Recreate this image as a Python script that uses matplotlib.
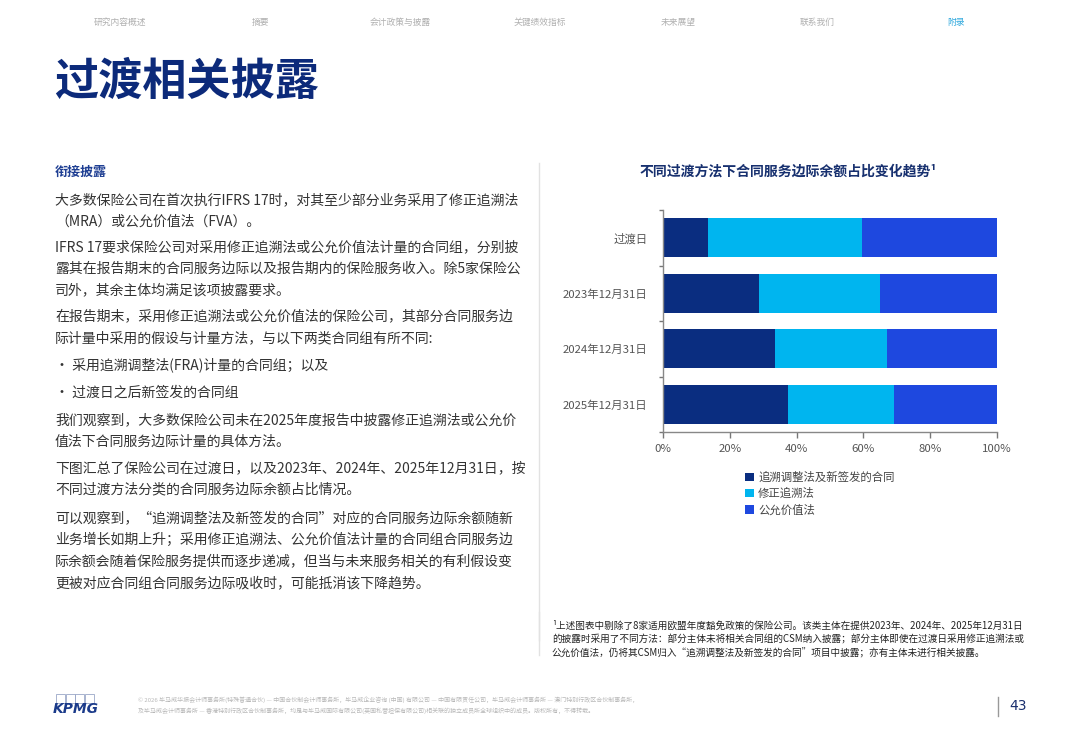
import matplotlib
matplotlib.use("Agg")
import matplotlib.pyplot as plt
import matplotlib.patches as mpatches
import numpy as np

plt.rcParams['font.family'] = ['Noto Sans CJK SC', 'DejaVu Sans']

# ---------------- data ----------------
categories = ["过渡日", "2023年12月31日", "2024年12月31日", "2025年12月31日"]
series_names = ["追溯调整法及新签发的合同", "修正追溯法", "公允价值法"]
fra_new = [13.5, 28.6, 33.5, 37.4]
mra = [46.2, 36.5, 33.5, 31.8]
fva = [40.3, 34.9, 33.0, 30.8]
x_ticks = [0, 20, 40, 60, 80, 100]
x_tick_labels = ["0%", "20%", "40%", "60%", "80%", "100%"]
colors = ["#0a2d80", "#00b5ef", "#1e48df"]

nav_items = ["研究内容概述", "摘要", "会计政策与披露", "关键绩效指标", "未来展望", "联系我们", "附录"]
page_title = "过渡相关披露"
section_heading = "衔接披露"
chart_title = "不同过渡方法下合同服务边际余额占比变化趋势¹"

body_paragraphs = [
    ["大多数保险公司在首次执行IFRS 17时，对其至少部分业务采用了修正追溯法",
     "（MRA）或公允价值法（FVA）。"],
    ["IFRS 17要求保险公司对采用修正追溯法或公允价值法计量的合同组，分别披",
     "露其在报告期末的合同服务边际以及报告期内的保险服务收入。除5家保险公",
     "司外，其余主体均满足该项披露要求。"],
    ["在报告期末，采用修正追溯法或公允价值法的保险公司，其部分合同服务边",
     "际计量中采用的假设与计量方法，与以下两类合同组有所不同:"],
    ["· 采用追溯调整法(FRA)计量的合同组；以及"],
    ["· 过渡日之后新签发的合同组"],
    ["我们观察到，大多数保险公司未在2025年度报告中披露修正追溯法或公允价",
     "值法下合同服务边际计量的具体方法。"],
    ["下图汇总了保险公司在过渡日，以及2023年、2024年、2025年12月31日，按",
     "不同过渡方法分类的合同服务边际余额占比情况。"],
    ["可以观察到，“追溯调整法及新签发的合同”对应的合同服务边际余额随新",
     "业务增长如期上升；采用修正追溯法、公允价值法计量的合同组合同服务边",
     "际余额会随着保险服务提供而逐步递减，但当与未来服务相关的有利假设变",
     "更被对应合同组合同服务边际吸收时，可能抵消该下降趋势。"],
]
para_tops = [200, 247, 316.5, 365, 393, 420, 468, 518]

footnote_lines = [
    "¹上述图表中剔除了8家适用欧盟年度豁免政策的保险公司。该类主体在提供2023年、2024年、2025年12月31日",
    "的披露时采用了不同方法：部分主体未将相关合同组的CSM纳入披露；部分主体即使在过渡日采用修正追溯法或",
    "公允价值法，仍将其CSM归入“追溯调整法及新签发的合同”项目中披露；亦有主体未进行相关披露。",
]
footer_lines = [
    "© 2026 毕马威华振会计师事务所(特殊普通合伙) — 中国合伙制会计师事务所，毕马威企业咨询 (中国) 有限公司 — 中国有限责任公司，毕马威会计师事务所 — 澳门特别行政区合伙制事务所，",
    "及毕马威会计师事务所 — 香港特别行政区合伙制事务所，均是与毕马威国际有限公司(英国私营担保有限公司)相关联的独立成员所全球组织中的成员。版权所有，不得转载。",
]
page_number = "43"

# ---------------- figure ----------------
W, H = 1080, 748
fig = plt.figure(figsize=(W / 100, H / 100), dpi=100)
fig.patch.set_facecolor("white")

def fx(x):
    return x / W

def fy(y):
    return 1 - y / H

navy = "#0c2a7a"
body_col = "#333333"

# nav
nav_x = [120, 261, 400, 540, 678, 817, 956]
for i, (t, x) in enumerate(zip(nav_items, nav_x)):
    fig.text(fx(x), fy(22), t, ha="center", va="center", fontsize=6.3,
             color="#2aa6dc" if i == len(nav_items) - 1 else "#b0b0b0")

# page title
fig.text(fx(54), fy(82), page_title, ha="left", va="center", fontsize=31.8,
         fontweight="heavy", color=navy)

# section heading
fig.text(fx(55), fy(172), section_heading, ha="left", va="center", fontsize=9.4,
         fontweight="bold", color="#1f3f93")

# body text
lh = 21.8
for para, top in zip(body_paragraphs, para_tops):
    for j, line in enumerate(para):
        fig.text(fx(55), fy(top + j * lh), line, ha="left", va="center",
                 fontsize=10.0, color=body_col)

# divider
fig.add_artist(plt.Line2D([fx(539), fx(539)], [fy(163), fy(640)],
                          color="#e2e2e2", lw=1))

# chart title
fig.text(fx(788), fy(172), chart_title, ha="center", va="center", fontsize=10,
         fontweight="bold", color="#17306f")

# chart axes
ax_l, ax_r, ax_t, ax_b = 663, 997, 210, 432
ax = fig.add_axes([fx(ax_l), fy(ax_b), (ax_r - ax_l) / W, (ax_b - ax_t) / H])
y = np.arange(len(categories))
left = np.zeros(len(categories))
handles = []
for vals, name, c in zip([fra_new, mra, fva], series_names, colors):
    b = ax.barh(y, vals, left=left, height=0.71, color=c, label=name)
    handles.append(b)
    left = left + np.array(vals)

ax.set_xlim(0, 100)
ax.set_ylim(len(categories) - 0.5, -0.5)
ax.set_xticks(x_ticks)
ax.set_xticklabels(x_tick_labels)
ax.set_yticks(y)
ax.set_yticklabels(categories)
ax.set_yticks(np.arange(-0.5, len(categories)), minor=True)
ax.tick_params(axis="y", which="major", length=0, pad=11, labelsize=8.2, labelcolor="#555555")
ax.tick_params(axis="y", which="minor", length=3, color="#777777", width=1)
ax.tick_params(axis="x", length=4, color="#777777", width=1, labelsize=8.2,
               labelcolor="#555555", pad=5)
for s in ["top", "right"]:
    ax.spines[s].set_visible(False)
for s in ["left", "bottom"]:
    ax.spines[s].set_color("#888888")
    ax.spines[s].set_linewidth(1)
ax.set_facecolor("white")

leg = fig.legend(handles=handles, labels=series_names, loc="upper left",
                 bbox_to_anchor=(fx(745), fy(472)), frameon=False, fontsize=8.2,
                 handlelength=0.75, handleheight=0.75, handletextpad=0.4,
                 labelspacing=0.42, borderaxespad=0, borderpad=0)
for t in leg.get_texts():
    t.set_color("#444444")

# footnote
for i, line in enumerate(footnote_lines):
    fig.text(fx(552), fy(626 + i * 13.4), line, ha="left", va="center",
             fontsize=6.95, color="#222222")
fig.add_artist(plt.Line2D([fx(539), fx(539)], [fy(612), fy(655)],
                          color="#e2e2e2", lw=1))

# footer: KPMG logo
for k in range(4):
    fig.add_artist(mpatches.Rectangle((fx(56 + k * 9.5), fy(703)), 9 / W, 9 / H,
                                      fill=False, ec="#9aa7c8", lw=0.6))
fig.text(fx(53), fy(709), "KPMG", ha="left", va="center", fontsize=10,
         fontweight="bold", fontstyle="italic", color="#1a3a8a",
         family=["DejaVu Sans"])
for i, line in enumerate(footer_lines):
    fig.text(fx(138), fy(700 + i * 10.5), line, ha="left", va="center",
             fontsize=4.3, color="#b8b8b8")
fig.add_artist(plt.Line2D([fx(998), fx(998)], [fy(697), fy(716)],
                          color="#999999", lw=1))
fig.text(fx(1018), fy(706), page_number, ha="center", va="center", fontsize=10,
         color="#1a2f6e", family=["DejaVu Sans"])

fig.savefig("out.png", dpi=100, facecolor="white")
